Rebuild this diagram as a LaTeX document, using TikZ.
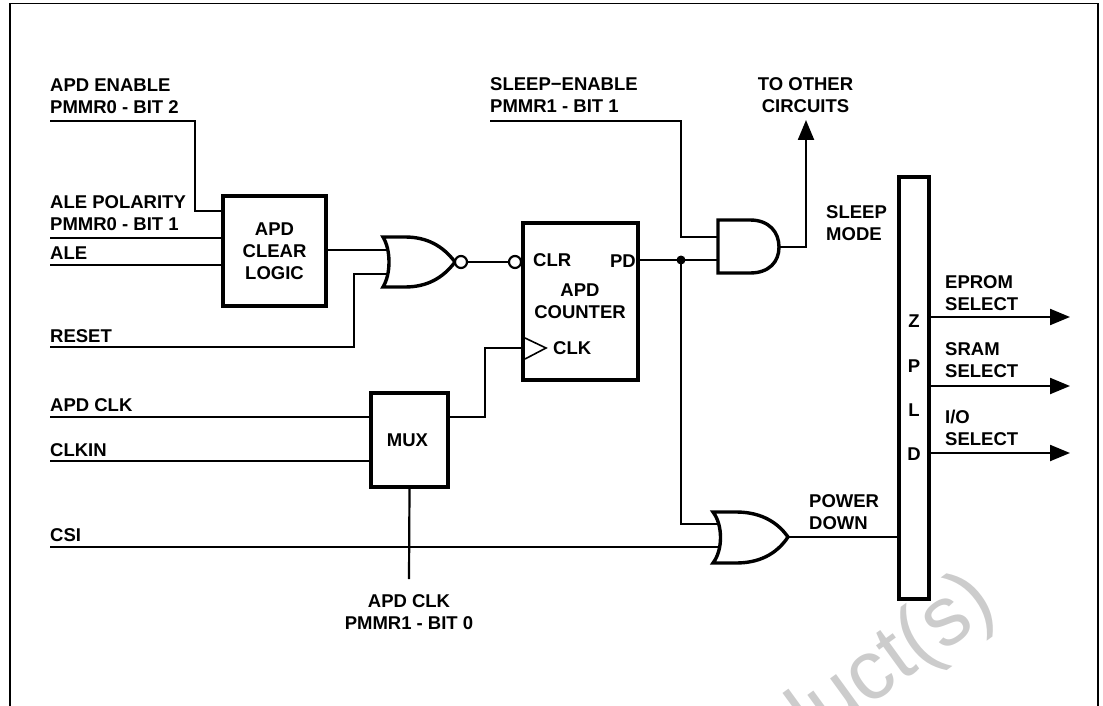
\documentclass[tikz,border=0pt]{standalone}
\usepackage{fontspec}
\setmainfont{Liberation Sans}
\usetikzlibrary{arrows.meta}
\tikzset{
  x=1pt,y=-1pt,
  wire/.style={line width=2.2pt,line cap=butt,line join=miter},
  heavy/.style={line width=3.4pt,line join=miter},
  boxn/.style={draw,line width=3.4pt,inner sep=0pt,align=center,font=\lblfont},
  lbl/.style={inner sep=0pt,align=left,anchor=west,font=\lblfont},
  lblc/.style={inner sep=0pt,align=center,anchor=center,font=\lblfont},
  outarrow/.style={wire,-{Triangle[length=20pt,width=16pt]}},
  bub/.style={circle,draw,fill=white,line width=2.2pt,minimum size=12pt,inner sep=0pt},
}
\newcommand{\lblfont}{\fontsize{18.5}{22}\selectfont\bfseries}
\begin{document}
\begin{tikzpicture}
\useasboundingbox (0,0) rectangle (1103,706);
\begin{scope}
\clip (0,0) rectangle (1103,706);
\node[text=black!20,font=\fontsize{84}{84}\selectfont,rotate=36,anchor=center,inner sep=0pt] (wm) at (883,669) {duct(s)};
\end{scope}
% frame
\draw[line width=1.8pt] (10,706) -- (10,3.5) -- (1098,3.5) -- (1098,706);
% boxes
\node[boxn,minimum width=103pt,minimum height=110pt] (clear) at (274.5,251) {APD\\CLEAR\\LOGIC};
\node[boxn,minimum width=115pt,minimum height=157pt] (cnt) at (580.5,301.5) {};
\node[boxn,minimum width=77pt,minimum height=94pt] (mux) at (409.5,440) {};
\node[lblc] (muxt) at (407.5,440) {MUX};
\node[boxn,minimum width=30pt,minimum height=422pt] (zpld) at (914,388) {};
\node[lblc] (apdc) at (580,301) {APD\\COUNTER};
\node[lbl] (clr) at (533,260) {CLR};
\node[lbl,anchor=east] (pd) at (636,261) {PD};
\node[lbl] (clk) at (553,348) {CLK};
\node[lblc] (z) at (914,321) {Z};
\node[lblc] (p) at (914,366) {P};
\node[lblc] (l) at (914,410) {L};
\node[lblc] (d) at (914,454) {D};
% gates
\coordinate (nort) at (383,237);
\coordinate (norb) at (383,287);
\coordinate (nora) at (455,262);
\draw[heavy] (nort) .. controls (391,250) and (391,274) .. (norb)
  -- (405,287) .. controls (427,287) and (443,278) .. (nora)
  .. controls (443,246) and (427,237) .. (405,237) -- cycle;
\coordinate (andt) at (718,220);
\coordinate (andb) at (718,273);
\coordinate (anda) at (779,247);
\draw[heavy] (andt) -- (750,220) .. controls (769,220) and (779,232) .. (anda)
  .. controls (779,262) and (769,273) .. (750,273) -- (andb) -- cycle;
\coordinate (ort) at (713,512);
\coordinate (orb) at (713,563);
\coordinate (ora) at (788,537);
\draw[heavy] (ort) .. controls (723,525) and (723,550) .. (orb)
  -- (736,563) .. controls (758,563) and (776,555) .. (ora)
  .. controls (776,520) and (758,512) .. (736,512) -- cycle;
% free ends
\node[lbl] (apden) at (50,96) {APD ENABLE\\PMMR0 - BIT 2};
\node[lbl] (alepol) at (50,213) {ALE POLARITY\\PMMR0 - BIT 1};
\node[lbl] (ale) at (50,253) {ALE};
\node[lbl] (reset) at (50,336) {RESET};
\node[lbl] (apdclk) at (50,405) {APD CLK};
\node[lbl] (clkin) at (50,450) {CLKIN};
\node[lbl] (csi) at (50,535) {CSI};
\node[lbl] (sleepen) at (490,95) {SLEEP−ENABLE\\PMMR1 - BIT 1};
\node[lblc] (other) at (805.5,95) {TO OTHER\\CIRCUITS};
\node[lbl] (sleepm) at (826,223) {SLEEP\\MODE};
\node[lbl] (eprom) at (945,293) {EPROM\\SELECT};
\node[lbl] (sram) at (945,360) {SRAM\\SELECT};
\node[lbl] (io) at (945,428) {I/O\\SELECT};
\node[lbl] (pwr) at (809,512) {POWER\\DOWN};
\node[lblc] (apdb) at (409,612) {APD CLK\\PMMR1 - BIT 0};
\coordinate (s1) at (50,121);
\coordinate (s2) at (50,238);
\coordinate (s3) at (50,265);
\coordinate (s4) at (50,347);
\coordinate (s5) at (50,417);
\coordinate (s6) at (50,461);
\coordinate (s7) at (50,547);
\coordinate (s8) at (490,121);
\coordinate (s9) at (409,579);
\coordinate (tip) at (806,120);
\coordinate (e1) at (1070,317);
\coordinate (e2) at (1070,386);
\coordinate (e3) at (1070,453);
\coordinate (j) at (681,260);
% connectors
\draw[wire] (s1) -- (195,121) -- (195,211) -- (clear.west |- 0,211);
\draw[wire] (s2) -- (clear.west |- s2);
\draw[wire] (s3) -- (clear.west |- s3);
\draw[wire] (clear.east |- 0,250) -- (388,250);
\draw[wire] (s4) -- (354,347) -- (354,274) -- (388,274);
\node[bub] (b1) at (461,262) {};
\node[bub] (b2) at (515,262) {};
\draw[wire] (b1) -- (b2);
\draw[wire] (s5) -- (mux.west |- s5);
\draw[wire] (s6) -- (mux.west |- s6);
\draw[wire] (mux.east |- 0,417) -- (485,417) -- (485,348) -- (cnt.west |- 0,348);
\draw[line width=1.6pt,fill=white,line join=miter] (525,338) -- (546,348) -- (525,359);
\draw[wire] (mux.south) -- (s9);
\draw[wire] (s7) -- (719,547);
\draw[wire] (cnt.east |- j) -- (718,260);
\draw[wire] (s8) -- (681,121) -- (681,237) -- (718,237);
\draw[outarrow] (anda) -- (806,247) -- (tip);
\draw[wire] (j) -- (681,524) -- (719,524);
\fill (j) circle (4.5pt);
\draw[wire] (ora) -- (zpld.west |- ora);
\draw[outarrow] (zpld.east |- e1) -- (e1);
\draw[outarrow] (zpld.east |- e2) -- (e2);
\draw[outarrow] (zpld.east |- e3) -- (e3);
\end{tikzpicture}
\end{document}
